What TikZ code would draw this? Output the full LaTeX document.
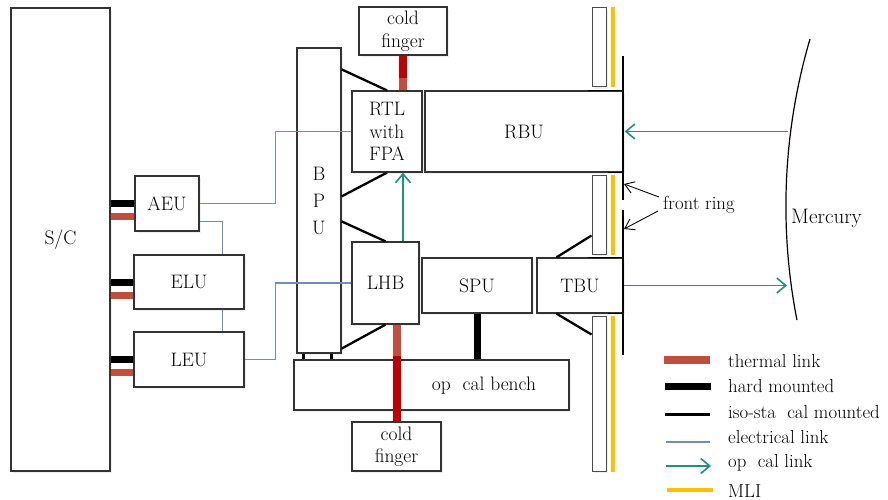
\documentclass[tikz,border=0pt]{standalone}
\usepackage{fontspec}
\usetikzlibrary{calc,arrows.meta,shadows}
\definecolor{thermal}{RGB}{192,80,61}
\definecolor{darkred}{RGB}{192,0,0}
\definecolor{elec}{RGB}{112,141,186}
\definecolor{optic}{RGB}{32,144,128}
\definecolor{mliyellow}{RGB}{255,192,0}
\newcommand\lblfont{\fontsize{19.5}{22.5}\selectfont\addfontfeature{FakeBold=0.4}}
\newcommand\legfont{\fontsize{18.8}{22.5}\selectfont\addfontfeature{FakeBold=0.4}}
\begin{document}
\begin{tikzpicture}[x=1pt,y=-1pt,
  box/.style={draw=black!80, line width=1.2pt, fill=white, inner sep=0pt, font=\lblfont, align=center,
    drop shadow={shadow xshift=2pt,shadow yshift=-2pt,opacity=0.12}},
  panel/.style={draw=black!70, line width=1pt, fill=white, inner sep=0pt, minimum width=14pt,
    drop shadow={shadow xshift=2pt,shadow yshift=-2pt,opacity=0.12}},
  mliline/.style={draw=mliyellow, line width=4pt},
  isoline/.style={draw=black, line width=2.3pt},
  hardline/.style={draw=black, line width=7pt},
  thermline/.style={draw=thermal, line width=8pt},
  coldline/.style={draw=darkred, line width=8pt},
  elecline/.style={draw=elec, line width=1.5pt},
  opticline/.style={draw=optic, line width=1.6pt, -{Straight Barb[length=9pt,width=15pt]}},
  ringarrow/.style={draw=black, line width=0.9pt, -{Straight Barb[length=9pt,width=12pt]}},
  txt/.style={font=\legfont, inner sep=0pt, anchor=west}
]
\useasboundingbox (0,0) rectangle (888,500);

% MLI panels
\node[panel, minimum height=79pt] (p1) at (599,47.5) {};
\node[panel, minimum height=79pt] (p2) at (599,214.5) {};
\node[panel, minimum height=155pt] (p3) at (599,393.5) {};
\draw[mliline] ($(p1.north east)+(6,0)$) -- ($(p1.south east)+(6,0)$);
\draw[mliline] ($(p2.north east)+(6,0)$) -- ($(p2.south east)+(6,0)$);
\draw[mliline] ($(p3.north east)+(6,0)$) -- ($(p3.south east)+(6,0)$);

% boxes
\node[box, minimum width=99pt, minimum height=463pt] (SC) at (60.5,239.5) {S/C};
\node[box, minimum width=64pt, minimum height=55pt] (AEU) at (167,203.5) {AEU};
\node[box, minimum width=110pt, minimum height=54pt] (ELU) at (189,282) {ELU};
\node[box, minimum width=110pt, minimum height=55pt] (LEU) at (189,359.5) {LEU};
\node[box, minimum width=44pt, minimum height=305pt, font={\lblfont\fontsize{19.5}{27}\selectfont}] (BPU) at (319,200.5) {B\\P\\U};
\node[box, minimum width=70pt, minimum height=81pt] (RTL) at (387,131.5) {RTL\\with\\FPA};
\node[box, minimum width=198pt, minimum height=81pt] (RBU) at (524,131.5) {RBU};
\node[box, minimum width=88pt, minimum height=48pt] (cold1) at (403,31) {cold\\finger};
\node[box, minimum width=67pt, minimum height=82pt] (LHB) at (385.5,283) {LHB};
\node[box, minimum width=110pt, minimum height=55pt] (SPU) at (477,285.5) {SPU};
\node[box, minimum width=86pt, minimum height=55pt] (TBU) at (580,285.5) {TBU};
\node[box, minimum width=275pt, minimum height=50pt] (bench) at (431.5,385) {};
\node[txt, font=\lblfont, anchor=center] (benchlbl) at (484,386) {op\phantom{ti}cal bench};
\node[box, minimum width=89pt, minimum height=49pt] (cold2) at (396.5,446.5) {cold\\finger};

% front ring line
\coordinate (ringA) at (623,56);
\coordinate (ringB) at (623,200);
\coordinate (ringC) at (623,210);
\coordinate (ringD) at (623,355);
\draw[black, line width=1.5pt] (ringA) -- (ringB);
\draw[black, line width=1.5pt] (ringC) -- (ringD);
\draw[black, line width=1.6pt] ($(RBU.north east)+(-36,0)$) -- (RBU.north east);
\draw[black, line width=1.6pt] ($(RBU.south east)+(-16,0)$) -- (RBU.south east);
\draw[black, line width=1.6pt] ($(TBU.north east)+(-36,0)$) -- (TBU.north east);
\draw[black, line width=1.6pt] ($(TBU.south east)+(-16,0)$) -- (TBU.south east);

% S/C mounts
\draw[hardline] (AEU.west) -- (AEU.west -| SC.east);
\draw[thermline,line width=7pt] ($(AEU.west)+(0,13)$) -- ($(AEU.west -| SC.east)+(0,13)$);
\draw[hardline] (ELU.west) -- (ELU.west -| SC.east);
\draw[thermline,line width=7pt] ($(ELU.west)+(0,13)$) -- ($(ELU.west -| SC.east)+(0,13)$);
\draw[hardline] (LEU.west) -- (LEU.west -| SC.east);
\draw[thermline,line width=7pt] ($(LEU.west)+(0,13)$) -- ($(LEU.west -| SC.east)+(0,13)$);

% electrical links
\draw[elecline] (AEU.east) -- ++(76,0) |- (RTL.west);
\draw[elecline] ($(AEU.south east)+(0,-10)$) -| ($(ELU.north east)+(-22,0)$);
\draw[elecline] ($(ELU.south east)+(-22,0)$) -- ($(LEU.north east)+(-22,0)$);
\draw[elecline] (LEU.east) -- ++(31,0) |- (LHB.west);

% iso-static mounts
\draw[isoline] ($(BPU.north east)+(0,22)$) -- (RTL.north);
\draw[isoline] (RTL.south) -- ($(BPU.north east)+(0,149)$);
\draw[isoline] ($(BPU.north east)+(0,174)$) -- (LHB.north);
\draw[isoline] (LHB.south) -- ($(BPU.south east)+(0,-5)$);
\draw[isoline] ($(TBU.north west)+(20,0)$) -- ($(p2.south west)+(0,-19)$);
\draw[isoline] ($(TBU.south west)+(20,0)$) -- ($(p3.north west)+(0,19)$);

% BPU feet and hard mount
\coordinate (footA) at ($(BPU.south west)+(7,0)$);
\coordinate (footB) at ($(BPU.south east)+(-10,0)$);
\draw[black, line width=3pt] (footA) -- (footA |- bench.north);
\draw[black, line width=3pt] (footB) -- (footB |- bench.north);
\draw[hardline] (SPU.south) -- (SPU.south |- bench.north);

% thermal links
\coordinate (th1) at ($(cold1.south)+(0,22)$);
\coordinate (th2) at (cold2.north |- LHB.south);
\coordinate (th3) at ($(th2)+(0,31)$);
\draw[coldline] (cold1.south) -- (th1);
\draw[thermline] (th1) -- (th1 |- RTL.north);
\draw[thermline] (th2) -- (th3);
\draw[coldline] (th3) -- (cold2.north);

% optical links
\coordinate (m1) at (788,131.5);
\coordinate (m2) at (787,285.5);
\coordinate (op1) at ($(LHB.north)+(17.5,0)$);
\draw[opticline] (op1) -- (op1 |- RTL.south);
\draw[opticline] (m1) -- ($(RBU.east)+(1,0)$);
\draw[opticline] (TBU.east) -- (m2);

% front ring label
\node[txt] (ring) at (663,205) {front ring};
\coordinate (fr1) at (624,184);
\coordinate (fr2) at (624,229);
\draw[ringarrow] ($(ring.west)+(-4,-8)$) -- (fr1);
\draw[ringarrow] ($(ring.west)+(-5,6)$) -- (fr2);

% Mercury
\draw[black, line width=1.2pt] (810,39) arc[start angle=196.4, end angle=168.9, radius=592];
\node[txt, font={\legfont\fontsize{21}{24}\selectfont}] (merc) at (791,218) {Mercury};

% legend
\coordinate (l1a) at (664,360); \coordinate (l1b) at (710,360);
\coordinate (l2a) at (665,386); \coordinate (l2b) at (711,386);
\coordinate (l3a) at (665,414); \coordinate (l3b) at (710,414);
\coordinate (l4a) at (666,442); \coordinate (l4b) at (710,442);
\coordinate (l5a) at (666,466); \coordinate (l5b) at (711,466);
\coordinate (l6a) at (667,490); \coordinate (l6b) at (713,490);
\draw[thermline] (l1a) -- (l1b);
\draw[hardline] (l2a) -- (l2b);
\draw[black, line width=3pt] (l3a) -- (l3b);
\draw[elecline] (l4a) -- (l4b);
\draw[opticline] (l5a) -- (l5b);
\draw[mliline] (l6a) -- (l6b);
\node[txt] (t1) at (728,361) {thermal link};
\node[txt] (t2) at (728,386) {hard mounted};
\node[txt] (t3) at (728,412) {iso-sta\phantom{ti}cal mounted};
\node[txt] (t4) at (728,437) {electrical link};
\node[txt] (t5) at (728,463) {op\phantom{ti}cal link};
\node[txt] (t6) at (728,491) {MLI};
\end{tikzpicture}
\end{document}
